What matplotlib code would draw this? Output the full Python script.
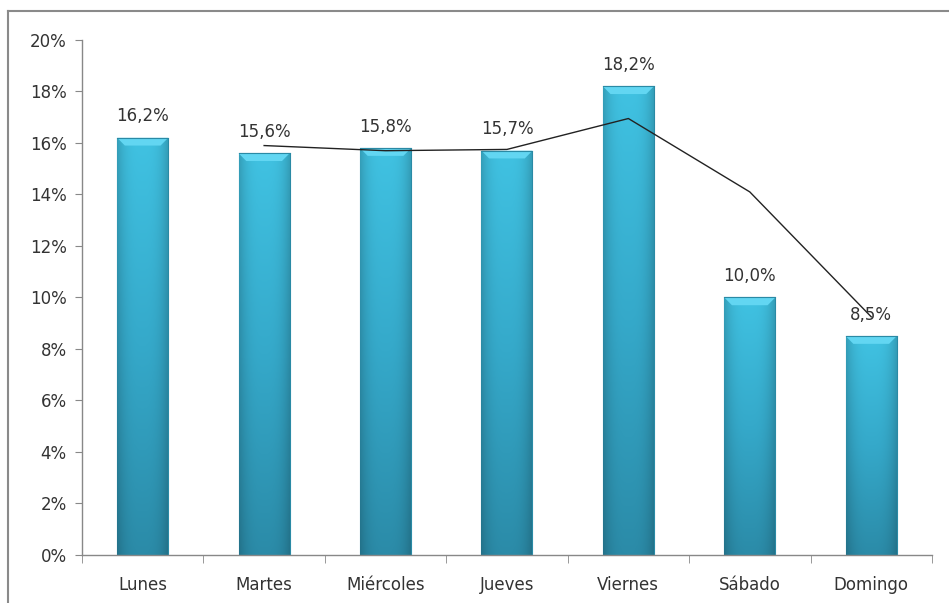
import numpy as np
import matplotlib.pyplot as plt
from matplotlib.colors import LinearSegmentedColormap
from matplotlib.lines import Line2D
from matplotlib.ticker import FuncFormatter

# data
dias = ["Lunes", "Martes", "Miércoles", "Jueves", "Viernes", "Sábado", "Domingo"]
porcentajes = [16.2, 15.6, 15.8, 15.7, 18.2, 10.0, 8.5]
etiquetas = ["16,2%", "15,6%", "15,8%", "15,7%", "18,2%", "10,0%", "8,5%"]
# trend line (starts at Martes)
tendencia_dias = ["Martes", "Miércoles", "Jueves", "Viernes", "Sábado", "Domingo"]
tendencia = [15.9, 15.7, 15.75, 16.95, 14.1, 9.25]

plt.rcParams["font.family"] = ["DejaVu Sans"]

fig = plt.figure(figsize=(9.49, 6.03), dpi=100)
ax = fig.add_axes([0.0864, 0.0796, 0.8956, 0.8541])

x = np.arange(len(dias))
bars = ax.bar(x, porcentajes, width=0.42, color="#38b2d4", edgecolor="#2a8aa5",
              linewidth=0.8, zorder=2)

# vertical + horizontal gradient inside each bar
cmap_v = LinearSegmentedColormap.from_list("v", ["#2b8ba8", "#35a9ca", "#40c2e2"])
gy = np.linspace(0, 1, 200)[:, None]
gx = np.linspace(-1, 1, 60)[None, :]
shade = 1 - 0.18 * np.abs(gx) ** 3
for b in bars:
    x0, w, h = b.get_x(), b.get_width(), b.get_height()
    rgb = cmap_v(np.repeat(gy, 60, axis=1))[:, :, :3] * shade[:, :, None]
    im = ax.imshow(rgb, extent=[x0, x0 + w, 0, h], origin="lower",
                   aspect="auto", zorder=2.5)
    im.set_clip_path(b)
    # light bevel on the top
    cap = 0.3
    ax.fill([x0, x0 + w, x0 + w * 0.85, x0 + w * 0.15],
            [h, h, h - cap, h - cap], color="#62d6f2", zorder=2.6, lw=0)
    ax.plot([x0, x0 + w], [h, h], color="#2a8aa5", lw=0.8, zorder=2.7)

# trend line
tx = [dias.index(d) for d in tendencia_dias]
ax.plot(tx, tendencia, color="#222222", lw=1.0, zorder=3)

for xi, v, lab in zip(x, porcentajes, etiquetas):
    ax.annotate(lab, (xi, v), xytext=(0, 9), textcoords="offset points",
                ha="center", va="bottom", fontsize=12, color="#333333", zorder=4)

ax.set_ylim(0, 20)
ax.set_yticks(np.arange(0, 21, 2))
ax.yaxis.set_major_formatter(FuncFormatter(lambda v, p: f"{v:.0f}%"))
ax.set_xlim(-0.5, len(dias) - 0.5)
ax.set_xticks(x)
ax.set_xticklabels(dias)
ax.set_xticks(np.arange(-0.5, len(dias), 1), minor=True)

ax.tick_params(axis="x", which="major", length=0, pad=15, labelsize=12, colors="#333333")
ax.tick_params(axis="x", which="minor", length=6, color="#888888", direction="out")
ax.tick_params(axis="y", length=5, color="#888888", pad=6, labelsize=12, colors="#333333")

for s in ["top", "right"]:
    ax.spines[s].set_visible(False)
for s in ["left", "bottom"]:
    ax.spines[s].set_color("#888888")
    ax.spines[s].set_linewidth(1.0)

# outer chart border (left and top edges only visible)
W, H = 949, 603
fig.add_artist(Line2D([8 / W, 8 / W], [0, 1 - 11 / H], transform=fig.transFigure,
                      color="#8a8a8a", lw=1.5))
fig.add_artist(Line2D([8 / W, 1], [1 - 11 / H, 1 - 11 / H], transform=fig.transFigure,
                      color="#8a8a8a", lw=1.5))

fig.savefig("out.png", dpi=100)
